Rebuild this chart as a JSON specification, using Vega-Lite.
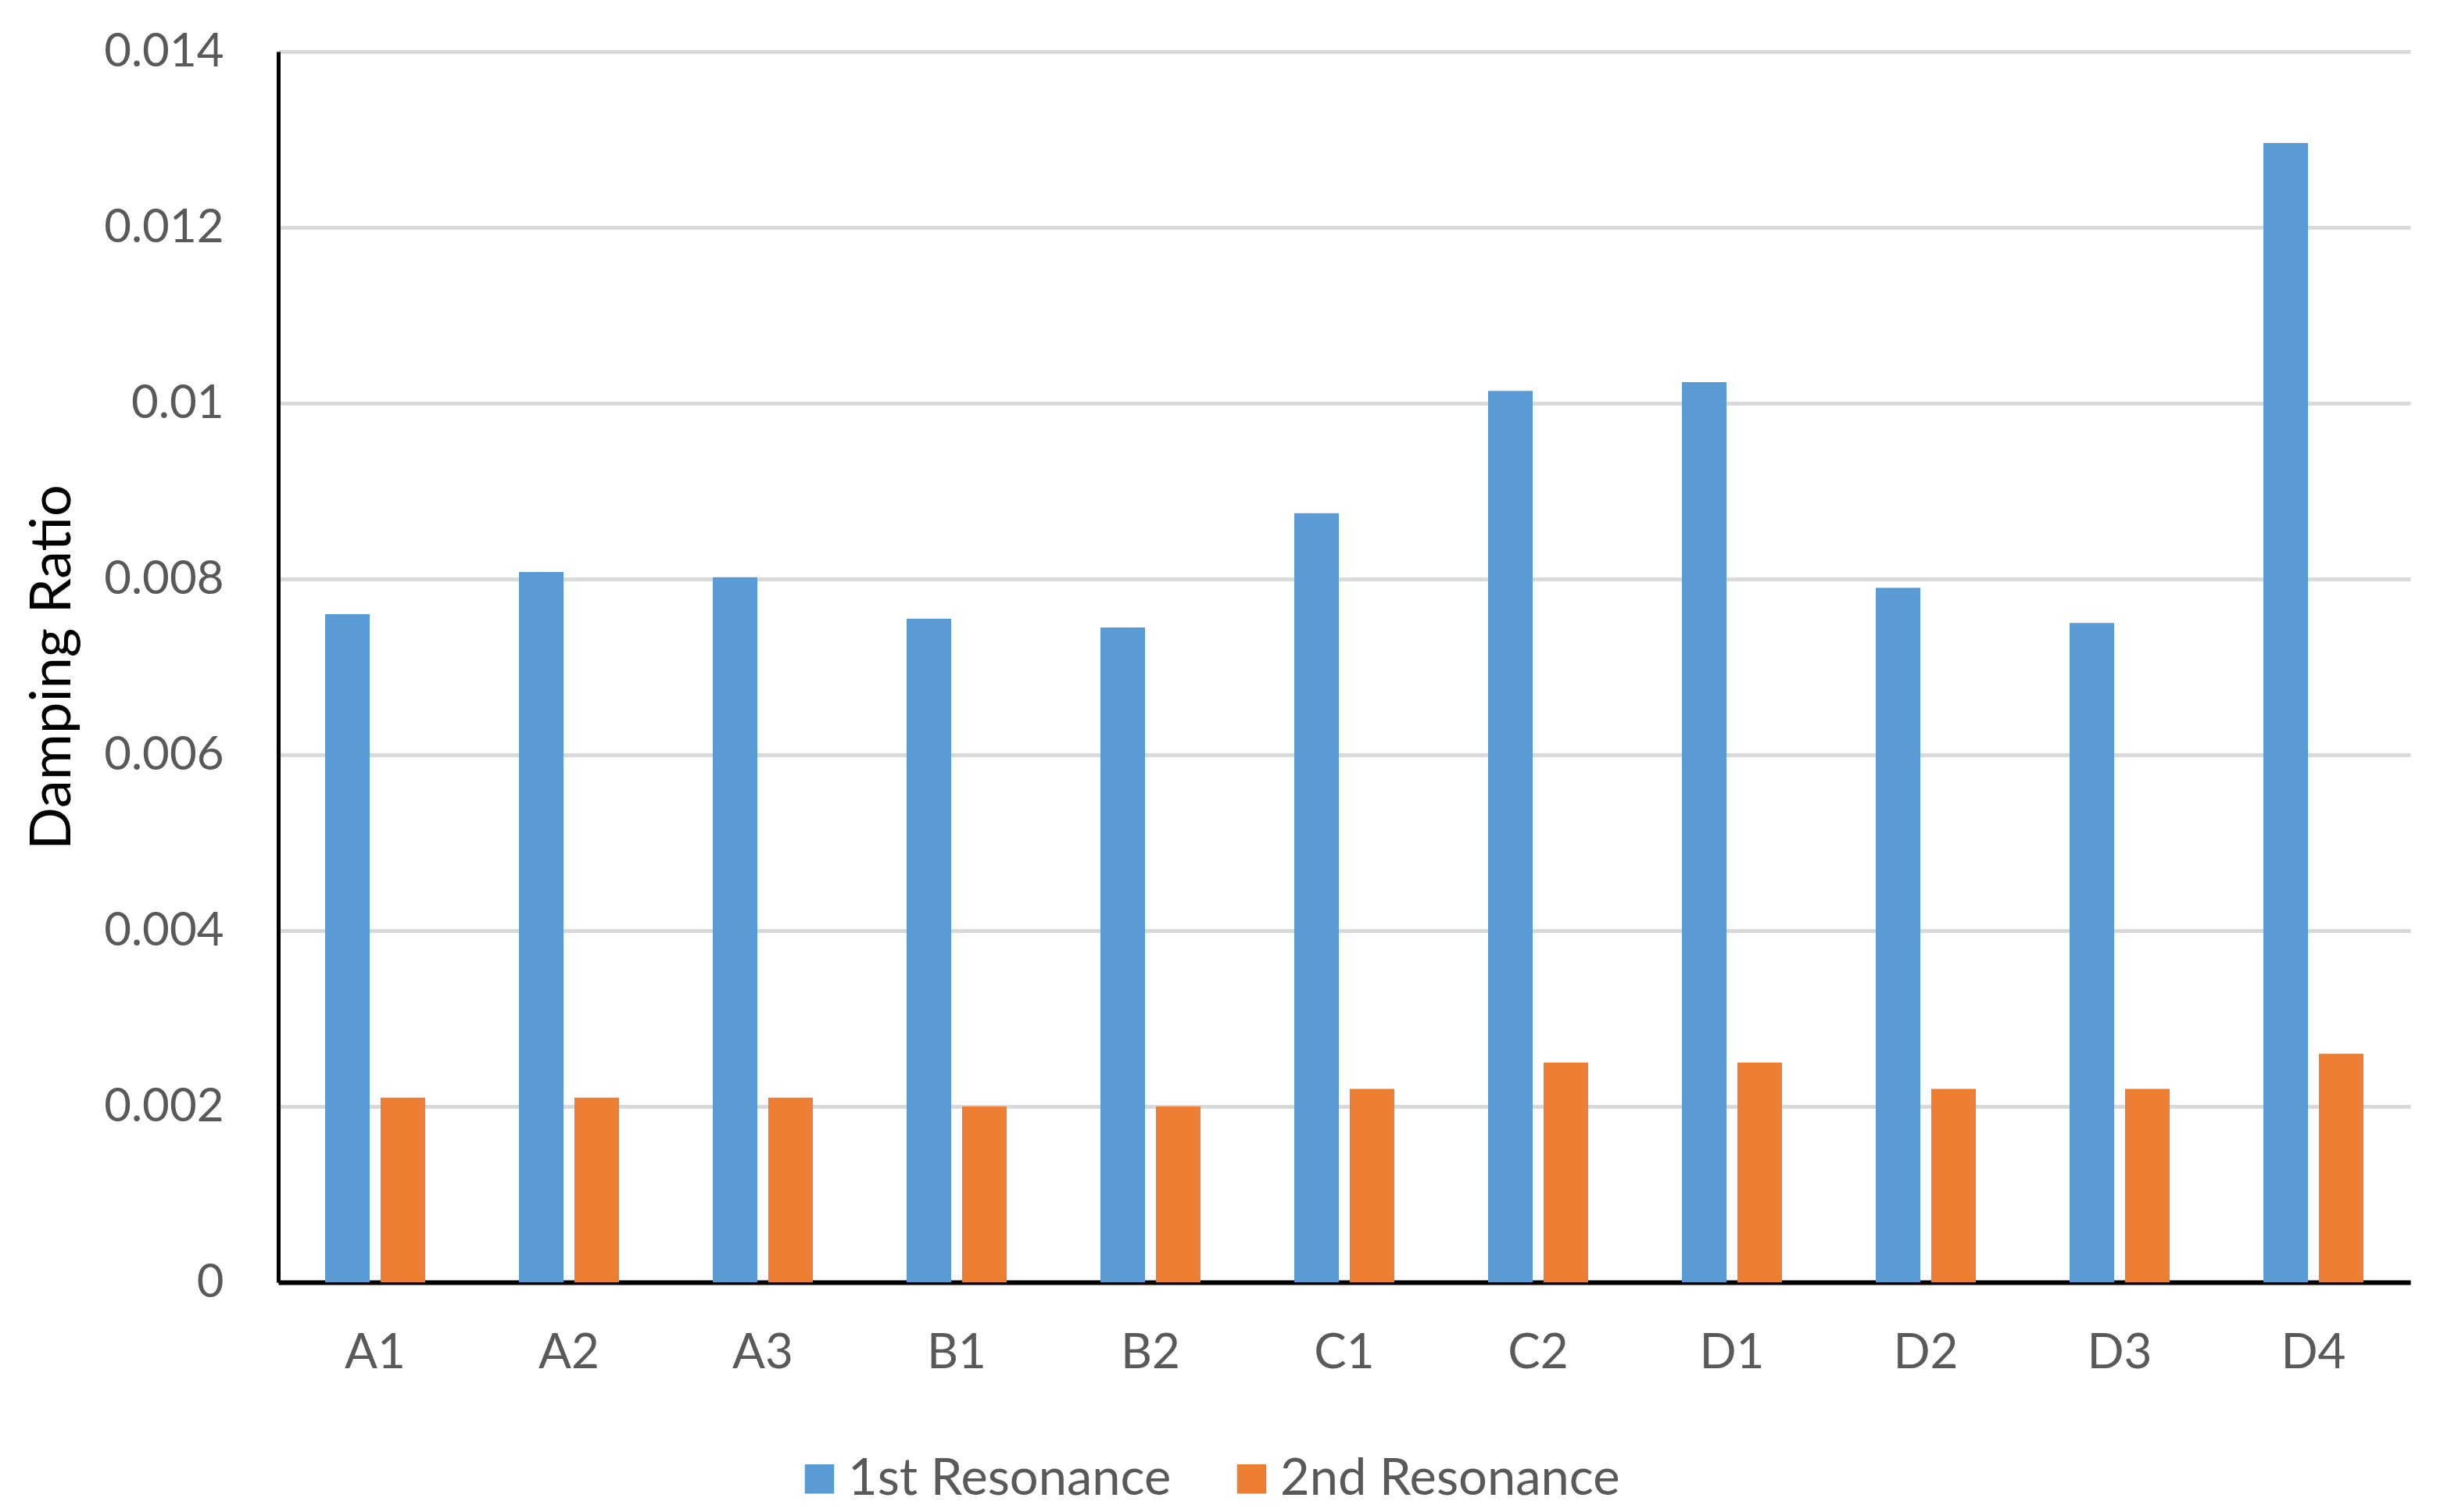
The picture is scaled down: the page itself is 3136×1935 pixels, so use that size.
{
  "$schema": "https://vega.github.io/schema/vega-lite/v6.json",
  "autosize": {"type": "none"},
  "padding": {"left": 356, "top": 66, "right": 52, "bottom": 294},
  "width": 2728,
  "height": 1575,
  "background": "white",
  "config": {
    "font": "Lato",
    "view": {"stroke": null}
  },
  "data": {
    "values": [
      {"cat": "A1", "series": "1st Resonance", "value": 0.0076},
      {"cat": "A2", "series": "1st Resonance", "value": 0.00808},
      {"cat": "A3", "series": "1st Resonance", "value": 0.00802},
      {"cat": "B1", "series": "1st Resonance", "value": 0.00755},
      {"cat": "B2", "series": "1st Resonance", "value": 0.00745},
      {"cat": "C1", "series": "1st Resonance", "value": 0.00875},
      {"cat": "C2", "series": "1st Resonance", "value": 0.01014},
      {"cat": "D1", "series": "1st Resonance", "value": 0.01024},
      {"cat": "D2", "series": "1st Resonance", "value": 0.0079},
      {"cat": "D3", "series": "1st Resonance", "value": 0.0075},
      {"cat": "D4", "series": "1st Resonance", "value": 0.01296},
      {"cat": "A1", "series": "2nd Resonance", "value": 0.0021},
      {"cat": "A2", "series": "2nd Resonance", "value": 0.0021},
      {"cat": "A3", "series": "2nd Resonance", "value": 0.0021},
      {"cat": "B1", "series": "2nd Resonance", "value": 0.002},
      {"cat": "B2", "series": "2nd Resonance", "value": 0.002},
      {"cat": "C1", "series": "2nd Resonance", "value": 0.0022},
      {"cat": "C2", "series": "2nd Resonance", "value": 0.0025},
      {"cat": "D1", "series": "2nd Resonance", "value": 0.0025},
      {"cat": "D2", "series": "2nd Resonance", "value": 0.0022},
      {"cat": "D3", "series": "2nd Resonance", "value": 0.0022},
      {"cat": "D4", "series": "2nd Resonance", "value": 0.0026}
    ]
  },
  "mark": {"type": "bar"},
  "encoding": {
    "x": {
      "field": "cat",
      "type": "nominal",
      "sort": null,
      "scale": {"paddingInner": 0.484, "paddingOuter": 0.242},
      "axis": {
        "title": null,
        "labelAngle": 0,
        "labelFontSize": 62,
        "labelColor": "#595959",
        "labelPadding": 60,
        "ticks": false,
        "domainColor": "#000000",
        "domainWidth": 6,
        "grid": false
      }
    },
    "xOffset": {
      "field": "series",
      "type": "nominal",
      "scale": {"paddingInner": 0.197, "paddingOuter": 0}
    },
    "y": {
      "field": "value",
      "type": "quantitative",
      "scale": {"domain": [0, 0.014], "nice": false},
      "axis": {
        "title": "Damping Ratio",
        "titleFontSize": 72,
        "titleFontWeight": "normal",
        "titleColor": "#000000",
        "titlePadding": 52,
        "values": [0, 0.002, 0.004, 0.006, 0.008, 0.01, 0.012, 0.014],
        "format": ".3~f",
        "labelFontSize": 60,
        "labelColor": "#595959",
        "labelPadding": 70,
        "ticks": false,
        "domainColor": "#000000",
        "domainWidth": 5,
        "grid": true,
        "gridColor": "#D9D9D9",
        "gridWidth": 5
      }
    },
    "color": {
      "field": "series",
      "type": "nominal",
      "scale": {"domain": ["1st Resonance", "2nd Resonance"], "range": ["#5B9BD5", "#ED7D31"]},
      "legend": {
        "title": null,
        "orient": "none",
        "direction": "horizontal",
        "legendX": 660,
        "legendY": 1794,
        "symbolType": "square",
        "symbolSize": 1400,
        "symbolStrokeWidth": 0,
        "labelFontSize": 65,
        "labelLimit": 2000,
        "labelColor": "#595959",
        "labelOffset": 4,
        "columnPadding": 70
      }
    }
  }
}
